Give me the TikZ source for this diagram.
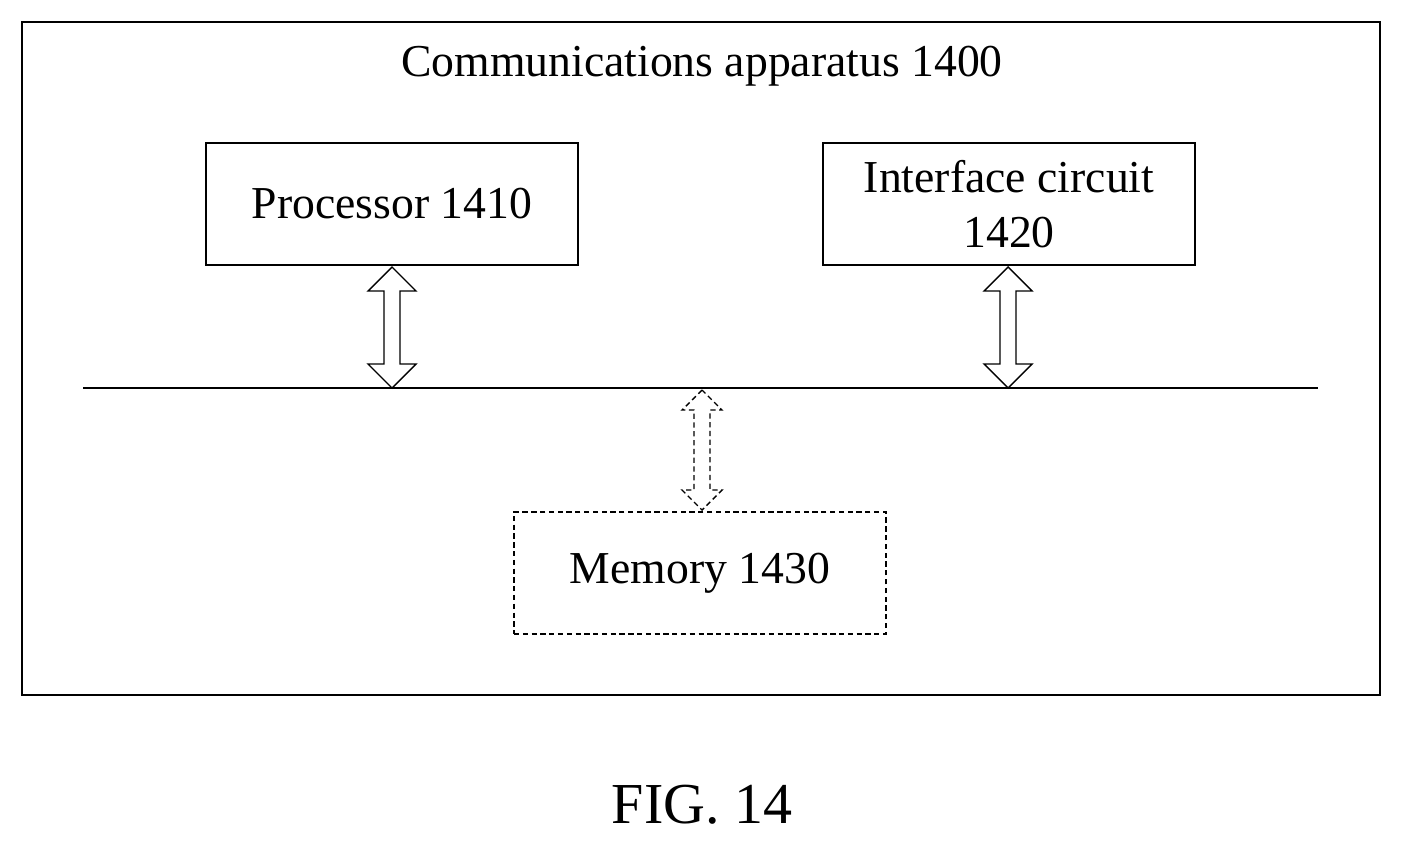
\documentclass[tikz,border=0pt]{standalone}
\usepackage{fontspec}
\setmainfont{Liberation Serif}
\tikzset{
  box/.style = {draw, thick, rectangle, align=center, minimum width=7.44cm,
    minimum height=2.44cm, font=\fontsize{26}{31}\selectfont},
  membox/.style = {box, densely dashed},
}
% double arrow at x=#2 from y=#3 down to y=#4, head half-width #5
\newcommand{\busarrow}[5][]{%
  \draw [thick, #1] (#2,#3) -- (#2-#5,#3+#5) -- (#2-8,#3+#5) -- (#2-8,#4-#5)
    -- (#2-#5,#4-#5) -- (#2,#4) -- (#2+#5,#4-#5) -- (#2+8,#4-#5)
    -- (#2+8,#3+#5) -- (#2+#5,#3+#5) -- cycle;}
\begin{document}
\begin{tikzpicture}[x=0.02cm, y=-0.02cm]
    \useasboundingbox (0,0) rectangle (1402,845);
    \draw [thick] (22,22) rectangle (1380,695);
    \node [font=\fontsize{26}{31}\selectfont] (title) at (702,66) {Communications apparatus 1400};
    \node [box] (proc) at (392,204) {Processor 1410};
    \node [box] (intf) at (1009,204) {Interface circuit\\1420};
    \node [membox] (mem) at (700,573) {Memory 1430};
    \coordinate (busL) at (83,388);
    \coordinate (busR) at (1318,388);
    \draw [thick] (busL) -- (busR);
    \busarrow{392}{267}{388}{24}
    \busarrow{1008}{267}{388}{24}
    \busarrow[densely dashed]{702}{390}{510}{20}
    \node [font=\fontsize{33}{38}\selectfont] (fig) at (702,805) {FIG. 14};
\end{tikzpicture}
\end{document}
